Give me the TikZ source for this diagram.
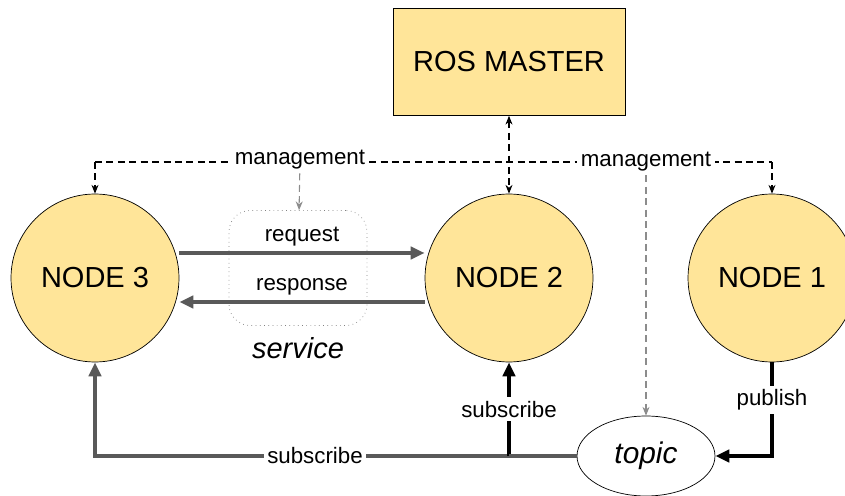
\documentclass[tikz,border=0pt]{standalone}
\usepackage{fontspec}
\setmainfont{Liberation Sans}
\usepackage{tikz}
\usetikzlibrary{positioning,shapes,arrows.meta}
\definecolor{rosfill}{HTML}{FFE599}
\definecolor{lnk}{HTML}{595959}
\tikzset{
  basic/.style  = {draw, fill=rosfill, thin, font=\fontsize{16.5}{18}\selectfont},
  master/.style = {basic, rectangle, minimum width=4.64cm, minimum height=2.14cm},
  rosnode/.style = {basic, circle, minimum size=3.36cm},
  topicnode/.style = {draw, ellipse, fill=white, thin, minimum width=2.76cm,
                   minimum height=1.6cm, font=\fontsize{17}{19}\selectfont\itshape},
  lbl/.style = {fill=white, text=black, inner sep=2pt, font=\fontsize{12.7}{14}\selectfont},
  dsh/.style = {dash pattern=on 4pt off 2.5pt, line width=0.6pt},
  mgmt/.style = {-{Stealth[length=5pt,width=4pt]}, dsh},
  mgmtg/.style = {mgmt, draw=gray!90},
  srv/.style = {-{Triangle[length=8pt,width=7pt]}, line width=2pt, lnk},
  pub/.style = {-{Triangle[length=8pt,width=7pt]}, line width=2pt, black}
}
\begin{document}
\begin{tikzpicture}[x=0.02cm, y=-0.02cm]
      \useasboundingbox (0,0) rectangle (845,496);
      \node[master] (ros) at (509,62) {ROS MASTER};
      \node[rosnode] (n3) at (95,278) {NODE 3};
      \node[rosnode] (n2) at (509,278) {NODE 2};
      \node[rosnode] (n1) at (772,278) {NODE 1};
      \node[topicnode] (topic) at (646,456) {topic};
      \node[draw=gray, dotted, rounded corners=12pt, minimum width=2.76cm,
            minimum height=2.3cm] (service) at (298,268) {};
      \node[font=\fontsize{16.5}{18}\selectfont\itshape] (servlbl) at (298,348) {service};

      % management lines
      \coordinate (mL) at (95,162);
      \coordinate (mR) at (772,162);
      \draw[dsh] (mL) -- (mR);
      \node[lbl] (mg1) at (300,160) {management};
      \node[lbl] (mg2) at (646,162) {management};
      \draw[mgmt] (mL) -- (n3);
      \draw[mgmt] (mR) -- (n1);
      \draw[mgmtg] (mg1) -- (service);
      \draw[mgmtg] (mg2) -- (topic);
      \draw[mgmt, {Stealth[length=5pt,width=4pt]}-{Stealth[length=5pt,width=4pt]}] (ros) -- (n2);

      % service
      \draw[srv] (n3.east |- 0,253) -- node[lbl, fill=none, above=1pt] (req) {request} (n2.west |- 0,253);
      \draw[srv] (n2.west |- 0,302) -- node[lbl, fill=none, above=1pt] (resp) {response} (n3.east |- 0,302);

      % topic
      \coordinate (tj) at (509,456);
      \draw[srv] (topic.west) -- (95,456) -- (n3);
      \node[lbl] (sub3) at (315,456) {subscribe};
      \draw[pub] (tj) -- node[lbl] (sub2) {subscribe} (n2);
      \draw[line width=2pt, lnk] (tj) -- (topic.west);
      \draw[pub] (n1) -- node[lbl, pos=0.4] (publ) {publish} (772,456) -- (topic.east);
\end{tikzpicture}
\end{document}
